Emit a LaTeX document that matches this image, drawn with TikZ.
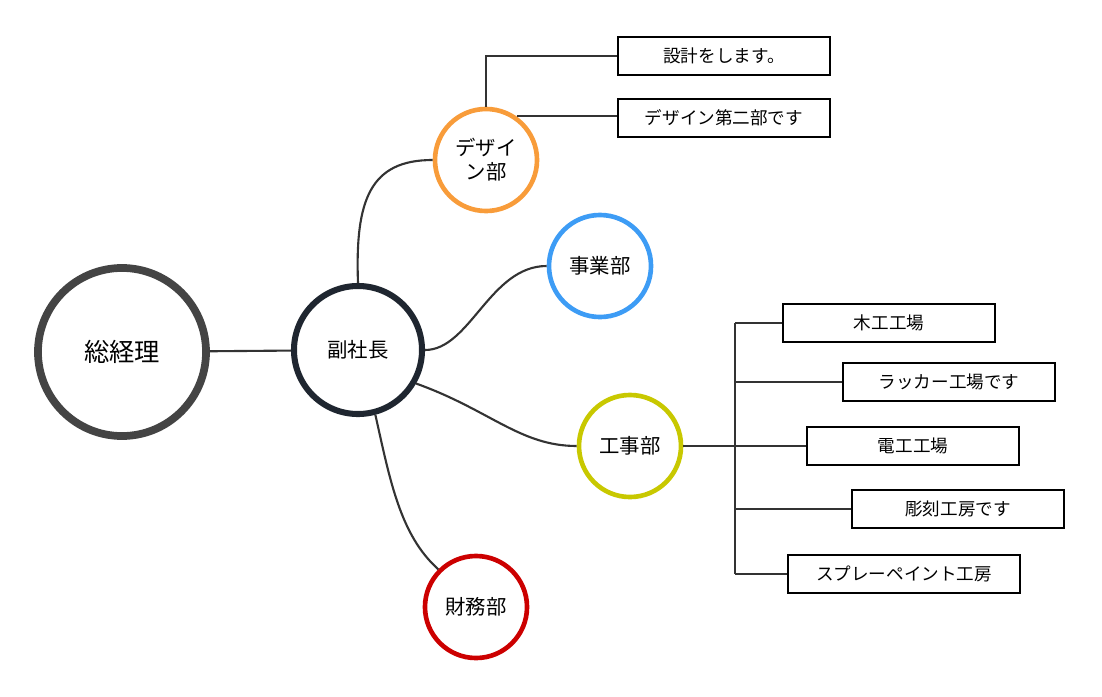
\documentclass[tikz,border=0pt]{standalone}
\usepackage{fontspec}
\setmainfont{Noto Sans CJK JP}
\usetikzlibrary{positioning}
\definecolor{ringgray}{HTML}{444444}
\definecolor{ringdark}{HTML}{1F2630}
\definecolor{ringorange}{HTML}{F89C3A}
\definecolor{ringblue}{HTML}{3D9CF5}
\definecolor{ringyellow}{HTML}{C8C800}
\definecolor{ringred}{HTML}{CC0000}
\definecolor{linkgray}{HTML}{333333}
\tikzset{font=\fontsize{12.5}{14}\selectfont}
\tikzstyle{dept}=[circle,draw,line width=3.3pt,minimum size=2.55cm,inner sep=0pt,align=center,font=\fontsize{14.5}{17}\selectfont]
\tikzstyle{task}=[draw,line width=1.2pt,minimum width=5.3cm,minimum height=0.95cm,inner sep=0pt]
\tikzstyle{link}=[draw=linkgray,line width=1.5pt]
\begin{document}
\begin{tikzpicture}[x=0.025cm,y=-0.025cm]
\useasboundingbox (0,0) rectangle (1102,696);
\node[circle,draw=ringgray,line width=5.5pt,minimum size=4.2cm,font=\fontsize{18}{20}\selectfont] (ceo) at (122,352) {総経理};
\node[circle,draw=ringdark,line width=4.3pt,minimum size=3.2cm,font=\fontsize{14.5}{17}\selectfont] (vp) at (358,350) {副社長};
\node[dept,draw=ringorange] (design) at (486,160) {デザイ\\ン部};
\node[dept,draw=ringblue] (biz) at (600,266) {事業部};
\node[dept,draw=ringyellow] (works) at (630,446) {工事部};
\node[dept,draw=ringred] (fin) at (476,607) {財務部};
\node[task] (t1) at (724,56) {設計をします。};
\node[task] (t2) at (724,118) {デザイン第二部です};
\node[task] (w1) at (889,323) {木工工場};
\node[task] (w2) at (949,382) {ラッカー工場です};
\node[task] (w3) at (913,446) {電工工場};
\node[task] (w4) at (958,509) {彫刻工房です};
\node[task,minimum width=5.8cm] (w5) at (904,574) {スプレーペイント工房};
\coordinate (hub) at (735,446);
% main links
\path[link] (ceo) -- (vp);
\path[link] (vp.north) .. controls (355,200) and (370,160) .. (design.west);
\path[link] (vp.east) .. controls (470,350) and (490,266) .. (biz.west);
\path[link] (vp.-30) .. controls (490,410) and (520,446) .. (works.west);
\path[link] (vp.-75) .. controls (390,480) and (400,535) .. (fin.north west);
% design tasks
\path[link] (design.north) -- (486,56) -- (t1.west);
\path[link] (design.55) -- (design.55 -| t2.west);
% works tasks
\path[link] (works.east) -- (hub);
\path[link] (735,323) -- (735,574);
\foreach \t in {w1,w2,w3,w4,w5}
  \path[link] (\t.west -| hub) -- (\t.west);
\end{tikzpicture}
\end{document}
